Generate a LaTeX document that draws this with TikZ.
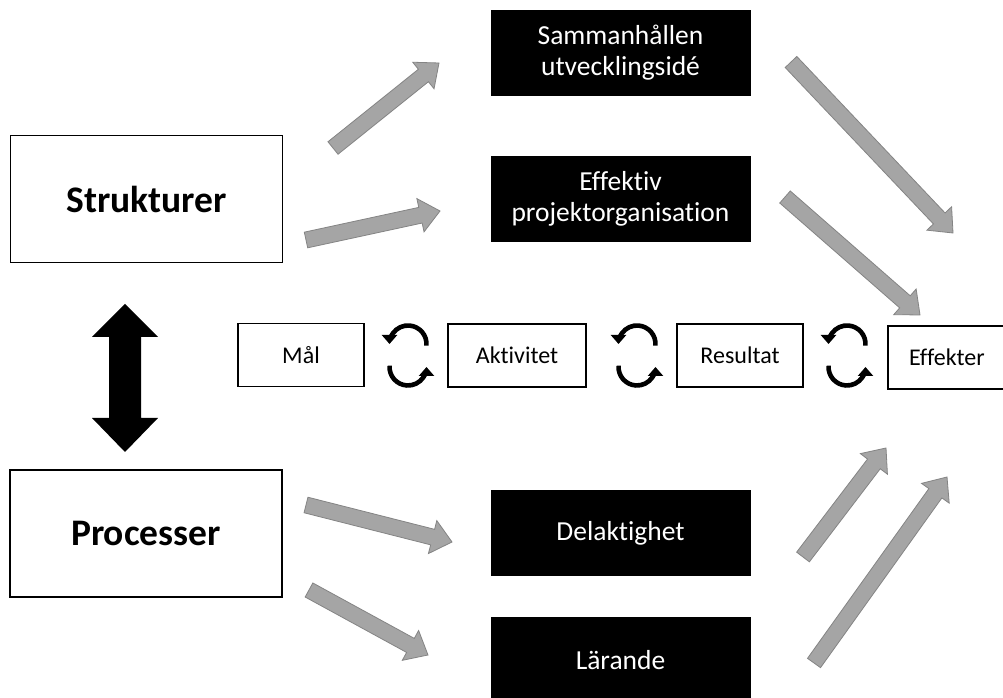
\documentclass[tikz,border=0pt]{standalone}
\usepackage{fontspec}
\setmainfont{Carlito}[Ligatures={CommonOff,ContextualOff}]
\usetikzlibrary{calc,arrows.meta}
\definecolor{arrfill}{HTML}{A5A5A5}
\definecolor{arrdraw}{HTML}{848484}
\tikzset{
  whitebox/.style={draw=black,line width=1.3pt,fill=white,inner sep=0pt,align=center},
  blackbox/.style={draw=black,fill=black,text=white,inner sep=0pt,align=center,minimum width=259pt,minimum height=85pt,font=\fontsize{27.5}{31}\selectfont},
  bigbox/.style={whitebox,minimum width=272pt,minimum height=127pt,font=\fontsize{37.5}{40}\selectfont\bfseries},
  smallbox/.style={whitebox,minimum height=63pt,font=\fontsize{24}{28}\selectfont},
  grayarrow/.style={fill=arrfill,draw=arrdraw,line width=0.8pt,line join=miter},
  cyclearc/.style={line width=4.6pt,-{Triangle[length=9pt,width=15pt]}},
}
\newcommand\garrow[2]{%
  \coordinate (H) at ($(#2)!20pt!(#1)$);
  \path[grayarrow] ($(#1)!8pt!90:(#2)$) -- ($(H)!8pt!-90:(#1)$) -- ($(H)!17pt!-90:(#1)$) -- (#2)
    -- ($(H)!17pt!90:(#1)$) -- ($(H)!8pt!90:(#1)$) -- ($(#1)!8pt!-90:(#2)$) -- cycle;
}
% #1: centre between the two arcs
\newcommand\cyclepair[1]{%
  \draw[cyclearc] ($(#1)+(0,11.5)+(-5:18.5)$) arc[start angle=-5,end angle=180,radius=18.5];
  \draw[cyclearc] ($(#1)+(0,-11.5)+(176:18.5)$) arc[start angle=176,end angle=360,radius=18.5];
}
\begin{document}
\begin{tikzpicture}[x=1pt,y=1pt]
\useasboundingbox[fill=white] (0,0) rectangle (1003,698);
% black boxes
\node[blackbox] (samman) at (620.5,645) {Sammanhållen\\utvecklingsidé};
\node[blackbox] (effektiv) at (620.5,499) {Effektiv\\projektorganisation};
\node[blackbox] (delakt) at (620.5,165) {Delaktighet};
\node[blackbox] (larande) at (620.5,38) {Lärande};
% big boxes
\node[bigbox] (strukt) at (146.5,499) {Strukturer};
\node[bigbox] (process) at (146,164.5) {Processer};
% small boxes
\node[smallbox,minimum width=126pt] (mal) at (301,343) {Mål};
\node[smallbox,minimum width=138pt] (aktiv) at (517,342.5) {Aktivitet};
\node[smallbox,minimum width=126pt] (result) at (740,342.5) {Resultat};
\node[smallbox,minimum width=126pt,text width=126pt,align=left] (effekt) at (951,340.5) {\hspace{21pt}Effekter};
% double arrow
\fill[black] (125,394) -- (158,361) -- (141,361) -- (141,280) -- (158,280) -- (125,246)
  -- (92,280) -- (109,280) -- (109,361) -- (92,361) -- cycle;
% cycle arrows
\coordinate (c1) at (408,342.5);
\coordinate (c2) at (637,342.5);
\coordinate (c3) at (847,342.5);
\cyclepair{c1}
\cyclepair{c2}
\cyclepair{c3}
% gray block arrows
\coordinate (a1) at (333,550); \coordinate (b1) at (439,635);
\coordinate (a2) at (306,458); \coordinate (b2) at (440,487);
\coordinate (a3) at (791,636); \coordinate (b3) at (953,465);
\coordinate (a4) at (785,501); \coordinate (b4) at (920,383);
\coordinate (a5) at (306,193); \coordinate (b5) at (452,156);
\coordinate (a6) at (309,108); \coordinate (b6) at (428,43);
\coordinate (a7) at (803,141); \coordinate (b7) at (886,250);
\coordinate (a8) at (814,35); \coordinate (b8) at (947,221);
\garrow{a1}{b1}
\garrow{a2}{b2}
\garrow{a3}{b3}
\garrow{a4}{b4}
\garrow{a5}{b5}
\garrow{a6}{b6}
\garrow{a7}{b7}
\garrow{a8}{b8}
\end{tikzpicture}
\end{document}
